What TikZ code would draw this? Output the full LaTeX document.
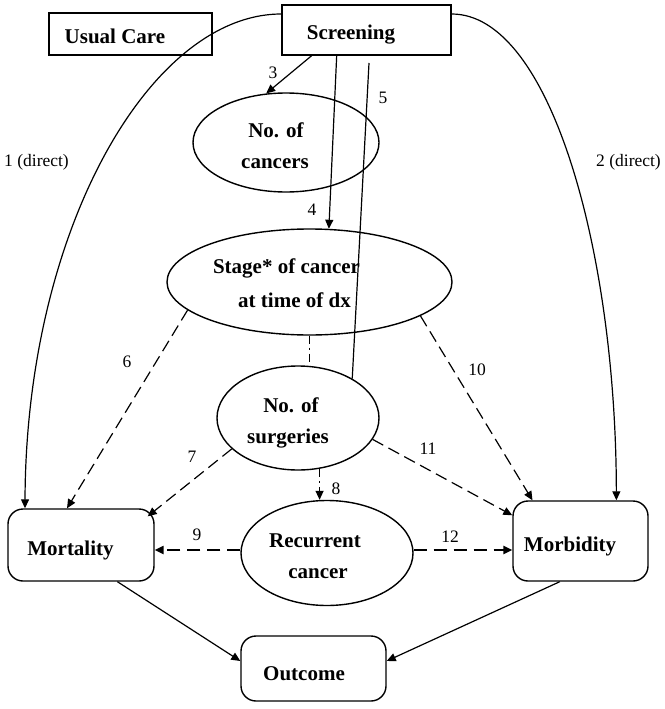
\documentclass[tikz,border=0pt]{standalone}
\usepackage{fontspec}
\setmainfont{Liberation Serif}
\usetikzlibrary{arrows.meta,shapes.geometric,calc}
\begin{document}
\begin{tikzpicture}[x=1pt,y=-1pt,
  box/.style={draw, line width=1.4pt, inner sep=0pt},
  rbox/.style={box, rounded corners=15pt},
  ell/.style={draw, ellipse, line width=1.4pt, inner sep=0pt},
  lbl/.style={font=\bfseries\fontsize{21}{25}\selectfont, anchor=base, inner sep=0pt},
  num/.style={font=\fontsize{17.5}{20}\selectfont, inner sep=0pt},
  arr/.style={-{Triangle[length=9pt,width=8pt]}, line width=1.2pt},
  plain/.style={line width=1.2pt},
  dasharr/.style={arr, dash pattern=on 12pt off 6pt},
  bolddash/.style={arr, line width=2.2pt, dash pattern=on 13pt off 7pt},
  dashdot/.style={line width=1.3pt, dash pattern=on 8pt off 4pt on 2pt off 4pt}]
\useasboundingbox (0,0) rectangle (664,709);

% shapes
\node[box, minimum width=163pt, minimum height=42pt] (usual) at (130.5,34) {};
\node[box, minimum width=169pt, minimum height=50pt] (scr) at (366.5,30) {};
\node[ell, minimum width=186pt, minimum height=99pt] (canc) at (286,142.5) {};
\node[ell, minimum width=285pt, minimum height=106pt] (stage) at (309.5,282) {};
\node[ell, minimum width=162pt, minimum height=104pt] (surg) at (298,418) {};
\node[ell, minimum width=172pt, minimum height=105pt] (rec) at (327,553) {};
\node[rbox, minimum width=146pt, minimum height=72pt] (mort) at (81,545) {};
\node[rbox, minimum width=135pt, minimum height=80pt] (morb) at (580.5,541) {};
\node[rbox, minimum width=145pt, minimum height=65pt] (outc) at (313.5,668.5) {};

% texts
\node[lbl] (tUsual) at (115,44) {Usual Care};
\node[lbl] (tScr) at (351,40) {Screening};
\node[lbl] (tCanc1) at (276,137) {No. of};
\node[lbl] (tCanc2) at (275,168) {cancers};
\node[lbl] (tStage1) at (286.5,273) {Stage* of cancer};
\node[lbl] (tStage2) at (294.5,307) {at time of dx};
\node[lbl] (tSurg1) at (291,412) {No. of};
\node[lbl] (tSurg2) at (288,443) {surgeries};
\node[lbl] (tRec1) at (315,547) {Recurrent};
\node[lbl] (tRec2) at (318,578) {cancer};
\node[lbl] (tMort) at (70.5,555) {Mortality};
\node[lbl] (tMorb) at (570,551) {Morbidity};
\node[lbl] (tOutc) at (304,680) {Outcome};

% number labels
\node[num] (n1) at (36.5,162) {1 (direct)};
\node[num, anchor=east] (n2) at (661,162) {2 (direct)};
\node[num] (n3) at (273,73) {3};
\node[num] (n4) at (312,210) {4};
\node[num] (n5) at (383,98) {5};
\node[num] (n6) at (127,362) {6};
\node[num] (n7) at (192,457) {7};
\node[num] (n8) at (336,489) {8};
\node[num] (n9) at (197,535) {9};
\node[num] (n10) at (477,370) {10};
\node[num] (n11) at (428,449) {11};
\node[num] (n12) at (450,537) {12};

% connectors
\draw[arr] ($(scr.west)+(0,-16)$) .. controls (150,14) and (26,230) .. ($(mort.north west)!0.12!(mort.north east)$);
\draw[arr] ($(scr.east)+(0,-16)$) .. controls (550,14) and (616,250) .. ($(morb.north west)!0.763!(morb.north east)$);
\draw[arr] ($(scr.south west)!0.178!(scr.south east)$) -- (canc.112);
\draw[arr] ($(scr.south west)!0.325!(scr.south east)$) -- (stage.70);
\coordinate (c5) at (369,63);
\draw[plain] (c5) -- (surg.36.7);
\draw[dashdot] (stage.south) -- (stage.south |- surg.north);
\draw[arr, dashdot] (surg.-67) -- (surg.-67 |- rec.north);
\draw[dasharr] (stage.193.1) -- ($(mort.north west)!0.405!(mort.north east)$);
\draw[dasharr] (surg.205.2) -- ($(mort.north east)+(-7,8)$);
\draw[dasharr] (stage.343) -- ($(morb.north west)!0.148!(morb.north east)$);
\draw[dasharr] (surg.-16) -- ($(morb.north west)+(0,15)$);
\draw[bolddash] ($(rec.west)+(0,-3)$) -- ($(mort.east)+(0,5)$);
\draw[bolddash] ($(rec.east)+(0,-3)$) -- ($(morb.west)+(0,9)$);
\draw[arr] ($(mort.south west)!0.747!(mort.south east)$) -- ($(outc.west)+(0,-7.5)$);
\draw[arr] ($(morb.south west)!0.348!(morb.south east)$) -- ($(outc.east)+(0,-7.5)$);
\end{tikzpicture}
\end{document}
